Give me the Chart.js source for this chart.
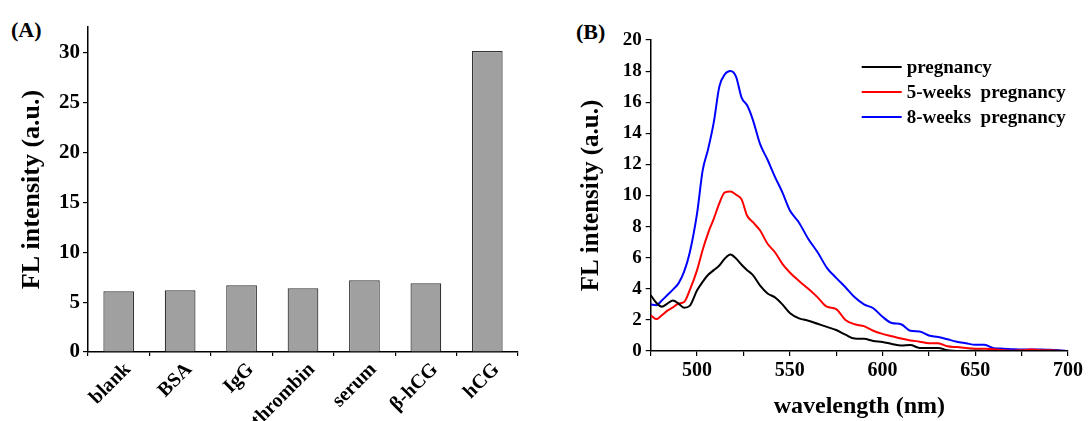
<!DOCTYPE html>
<html>
<head>
<meta charset="utf-8">
<script src="https://cdn.jsdelivr.net/npm/chart.js@4.4.0/dist/chart.umd.min.js"></script>
<style>
    html, body { margin: 0; padding: 0; background: #fff; }
    body { width: 1091px; height: 421px; position: relative; overflow: hidden; font-family: "Liberation Serif", "Times New Roman", serif; }
    .panel { position: absolute; top: 0; }
    .tag { position: absolute; font-weight: bold; font-size: 22px; line-height: 1; color: #000; }
</style>
</head>
<body>
<div class="tag" style="left:11px; top:19px;">(A)</div>
<div class="tag" style="left:576px; top:21px;">(B)</div>
<canvas id="chart-a" class="panel" style="left:0px;" width="545" height="421"></canvas>
<canvas id="chart-b" class="panel" style="left:545px;" width="546" height="421"></canvas>
<script>
(function () {
    // panel (A): selectivity bars
    const sampleNames = ['blank', 'BSA', 'IgG', 'thrombin', 'serum', 'β-hCG', 'hCG'];
    const sampleIntensity = [6.1, 6.2, 6.7, 6.4, 7.2, 6.9, 30.2];
    const barTicks = [0, 5, 10, 15, 20, 25, 30];

    // panel (B): emission spectra
    const wavelength = [475, 478, 481, 484, 487, 490, 493, 496, 500, 503, 506, 509, 512, 515, 518, 521,
        524, 527, 530, 534, 538, 542, 546, 550, 555, 560, 565, 570, 575, 580, 585, 590, 595, 600, 605,
        610, 615, 620, 625, 630, 635, 640, 645, 650, 655, 660, 665, 670, 675, 680, 685, 690, 695, 700];
    const pregnancy = [3.6, 3.1, 2.85, 3.05, 3.25, 3.05, 2.78, 2.9, 3.9, 4.45, 4.9, 5.2, 5.5, 5.95, 6.2, 5.95,
        5.55, 5.2, 4.9, 4.2, 3.7, 3.45, 3.0, 2.45, 2.1, 1.95, 1.75, 1.55, 1.35, 1.05, 0.8, 0.78, 0.65, 0.58, 0.45,
        0.35, 0.38, 0.2, 0.2, 0.2, 0.05, 0.0, 0.0, 0.02, 0.0, 0.0, 0.0, 0.0, 0.0, 0.0, 0.0, 0.0, 0.0, 0.0];
    const weeks5 = [2.3, 2.05, 2.3, 2.6, 2.8, 3.05, 3.15, 3.9, 5.2, 6.5, 7.6, 8.5, 9.5, 10.2, 10.25, 10.05,
        9.75, 8.7, 8.3, 7.75, 6.9, 6.35, 5.6, 5.05, 4.5, 4.0, 3.45, 2.85, 2.7, 2.0, 1.72, 1.6, 1.3, 1.1, 0.95,
        0.8, 0.68, 0.6, 0.5, 0.5, 0.3, 0.25, 0.2, 0.15, 0.15, 0.12, 0.05, 0.02, 0.05, 0.1, 0.05, 0.05, 0.02, 0.0];
    const weeks8 = [3.0, 2.95, 3.25, 3.6, 3.95, 4.35, 5.1, 6.3, 8.85, 11.6, 13.0, 14.7, 17.0, 17.8, 18.0, 17.65,
        16.3, 15.8, 14.9, 13.3, 12.3, 11.2, 10.2, 9.05, 8.25, 7.2, 6.35, 5.35, 4.7, 4.1, 3.45, 3.0, 2.75, 2.2, 1.8,
        1.72, 1.3, 1.25, 1.0, 0.9, 0.75, 0.6, 0.5, 0.4, 0.4, 0.18, 0.15, 0.12, 0.1, 0.1, 0.1, 0.08, 0.05, 0.0];
    const seriesLabels = ['pregnancy', '5-weeks  pregnancy', '8-weeks  pregnancy'];
    const seriesColors = ['#000000', '#ff0000', '#0000ff'];
    const spectrumTicks = [0, 2, 4, 6, 8, 10, 12, 14, 16, 18, 20];
    const wavelengthTicks = [500, 550, 600, 650, 700];

    const serif = '"Liberation Serif", "Times New Roman", serif';
    Chart.defaults.color = '#000';
    Chart.defaults.font.family = serif;
    Chart.defaults.font.weight = 'bold';

    const toPoints = ys => ys.map((y, i) => ({x: wavelength[i], y: y}));

    // draws the line legend inside the plot, like the original figure
    const lineLegend = {
        id: 'lineLegend',
        afterDatasetsDraw(chart, args, opts) {
            const c = chart.ctx;
            const area = chart.chartArea;
            c.save();
            c.font = 'bold 19px ' + serif;
            c.textBaseline = 'middle';
            c.textAlign = 'left';
            chart.data.datasets.forEach((ds, i) => {
                const y = area.top + opts.top + i * opts.rowGap;
                const x0 = area.left + opts.left;
                c.strokeStyle = ds.borderColor;
                c.lineWidth = 2;
                c.beginPath();
                c.moveTo(x0, y);
                c.lineTo(x0 + opts.lineLen, y);
                c.stroke();
                c.fillStyle = '#000';
                c.fillText(ds.label, x0 + opts.lineLen + 5, y + 1);
            });
            c.restore();
        }
    };

    new Chart(document.getElementById('chart-a'), {
        type: 'bar',
        data: {
            labels: sampleNames,
            datasets: [{
                data: sampleIntensity,
                backgroundColor: '#a0a0a0',
                borderColor: '#333333',
                borderWidth: 1.2,
                barPercentage: 0.5,
                categoryPercentage: 1.0,
            }],
        },
        options: {
            responsive: false,
            animation: false,
            layout: {padding: {left: 0, top: 27, right: 27, bottom: 0}},
            plugins: {legend: {display: false}, tooltip: {enabled: false}},
            scales: {
                x: {
                    afterFit: scale => { scale.height = 69; },
                    grid: {display: true, drawOnChartArea: false, offset: true, tickLength: 4, color: '#000', lineWidth: 1.2},
                    border: {display: true, color: '#000', width: 1.5},
                    ticks: {font: {size: 20, weight: 'bold'}, minRotation: 45, maxRotation: 45, padding: 2, labelOffset: 9, autoSkip: false},
                },
                y: {
                    min: 0,
                    max: 32.6,
                    afterFit: scale => { scale.width = 88; },
                    grid: {display: true, drawOnChartArea: false, tickLength: 5, color: '#000', lineWidth: 1.2},
                    border: {display: true, color: '#000', width: 1.5},
                    ticks: {
                        stepSize: 2.5,
                        includeBounds: false,
                        padding: 3,
                        font: {size: 21, weight: 'bold'},
                        callback: v => barTicks.includes(v) ? String(v) : '',
                    },
                    title: {display: true, text: 'FL intensity (a.u.)', font: {size: 26, weight: 'bold'}, padding: {top: 17}},
                },
            },
        },
    });

    new Chart(document.getElementById('chart-b'), {
        type: 'line',
        data: {
            datasets: [pregnancy, weeks5, weeks8].map((ys, i) => ({
                label: seriesLabels[i],
                data: toPoints(ys),
                borderColor: seriesColors[i],
                backgroundColor: seriesColors[i],
                borderWidth: 2,
                pointRadius: 0,
                tension: 0.3,
                cubicInterpolationMode: 'monotone',
                fill: false,
            })),
        },
        options: {
            responsive: false,
            animation: false,
            layout: {padding: {left: 0, top: 40, right: 23, bottom: 0}},
            plugins: {
                legend: {display: false},
                tooltip: {enabled: false},
                lineLegend: {left: 211, top: 27, rowGap: 25, lineLen: 40},
            },
            scales: {
                x: {
                    type: 'linear',
                    min: 475,
                    max: 700,
                    afterFit: scale => { scale.height = 70; },
                    grid: {display: true, drawOnChartArea: false, tickLength: 5, color: '#000', lineWidth: 1.2},
                    border: {display: true, color: '#000', width: 1.5},
                    ticks: {
                        stepSize: 25,
                        padding: 3,
                        maxRotation: 0,
                        font: {size: 20, weight: 'bold'},
                        callback: v => wavelengthTicks.includes(v) ? String(v) : '',
                    },
                    title: {display: true, text: 'wavelength (nm)', font: {size: 24, weight: 'bold'}, padding: {top: 0, bottom: 0}},
                },
                y: {
                    min: 0,
                    max: 20,
                    afterFit: scale => { scale.width = 105.7; },
                    grid: {display: true, drawOnChartArea: false, tickLength: 5, color: '#000', lineWidth: 1.2},
                    border: {display: true, color: '#000', width: 1.5},
                    ticks: {
                        stepSize: 1,
                        padding: 4,
                        font: {size: 19, weight: 'bold'},
                        callback: v => spectrumTicks.includes(v) ? String(v) : '',
                    },
                    title: {display: true, text: 'FL intensity (a.u.)', font: {size: 25, weight: 'bold'}, padding: {top: 32}},
                },
            },
        },
        plugins: [lineLegend],
    });
})();
</script>
</body>
</html>
